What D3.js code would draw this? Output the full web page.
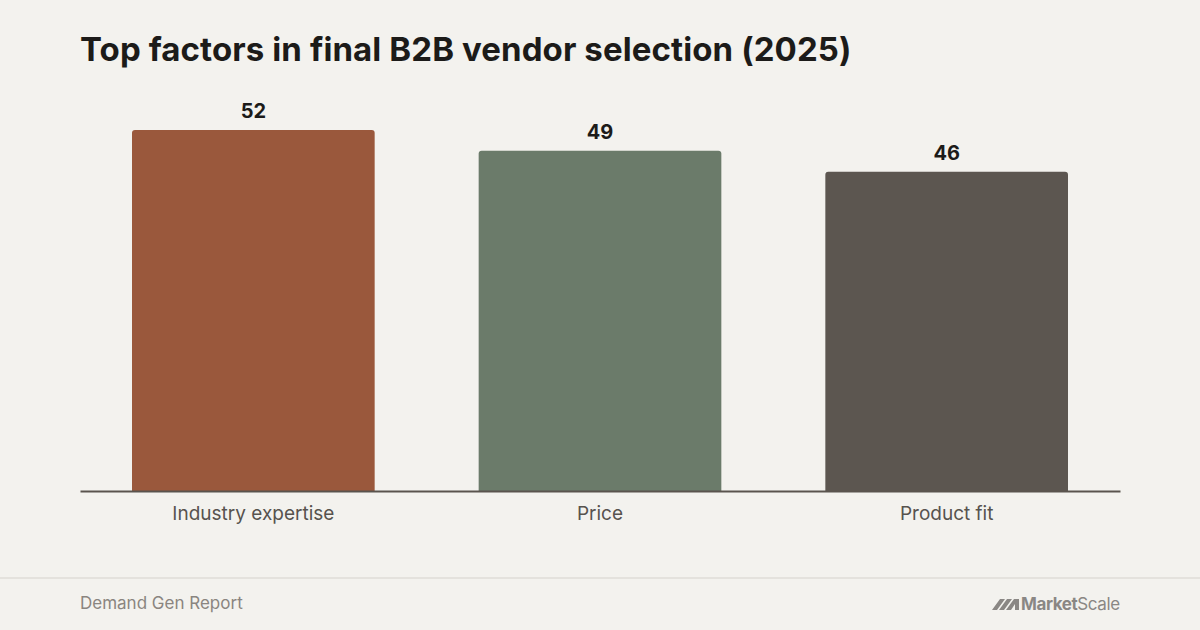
<!DOCTYPE html>
<html>
<head>
<meta charset="utf-8">
<script src="https://cdn.jsdelivr.net/npm/d3@7"></script>
<style>
  html, body { margin: 0; padding: 0; background: #f3f2ee; }
  svg { display: block; font-family: Inter, "Noto Sans", sans-serif; }
</style>
</head>
<body>
<svg width="1200" height="630"></svg>
<script>
  // data
  const categories = ["Industry expertise", "Price", "Product fit"];
  const values = [52, 49, 46];
  const barColors = ["#9a583c", "#6b7b6a", "#5c5650"];

  const svg = d3.select("svg");
  const W = 1200, H = 630;

  svg.append("rect").attr("width", W).attr("height", H).attr("fill", "#f3f2ee");

  // title
  svg.append("text")
    .attr("x", 80).attr("y", 61)
    .attr("font-size", 33).attr("font-weight", 700)
    .attr("letter-spacing", 0.1)
    .attr("fill", "#1c1b19")
    .text("Top factors in final B2B vendor selection (2025)");

  const x = d3.scaleBand()
    .domain(categories)
    .range([80, 1120])
    .paddingInner(0.3)
    .paddingOuter(0.15);

  const y = d3.scaleLinear()
    .domain([0, 52])
    .range([491, 130]);

  const rows = categories.map((c, i) => ({ cat: c, val: values[i], color: barColors[i] }));

  // bars with slightly rounded tops
  const r = 3;
  svg.append("g").selectAll("path")
    .data(rows)
    .join("path")
    .attr("fill", d => d.color)
    .attr("d", d => {
      const x0 = x(d.cat), x1 = x0 + x.bandwidth();
      const y0 = y(d.val), y1 = y(0);
      return `M${x0},${y1} L${x0},${y0 + r} Q${x0},${y0} ${x0 + r},${y0}
              L${x1 - r},${y0} Q${x1},${y0} ${x1},${y0 + r} L${x1},${y1} Z`;
    });

  // value labels
  svg.append("g").selectAll("text")
    .data(rows)
    .join("text")
    .attr("x", d => x(d.cat) + x.bandwidth() / 2)
    .attr("y", d => y(d.val) - 12)
    .attr("text-anchor", "middle")
    .attr("font-size", 20).attr("font-weight", 700)
    .attr("fill", "#1c1b19")
    .text(d => d.val);

  // baseline axis
  const axis = svg.append("g")
    .attr("transform", `translate(0,${y(0)})`)
    .call(d3.axisBottom(x).tickSize(0).tickPadding(16));
  axis.select(".domain").attr("stroke", "#5a544e").attr("stroke-width", 2);
  axis.selectAll(".tick text")
    .attr("font-size", 19)
    .attr("font-family", "Inter, 'Noto Sans', sans-serif")
    .attr("fill", "#57534e");

  // footer
  svg.append("line")
    .attr("x1", 0).attr("x2", W)
    .attr("y1", 578).attr("y2", 578)
    .attr("stroke", "#e4e2dd").attr("stroke-width", 2);

  svg.append("text")
    .attr("x", 80).attr("y", 609)
    .attr("font-size", 17)
    .attr("fill", "#8a8580")
    .text("Demand Gen Report");

  // MarketScale logo mark + wordmark
  const logo = svg.append("g").attr("transform", "translate(992,596)");
  logo.append("path")
    .attr("fill", "#8a8784")
    .attr("d", "M0,14 L8,3 L13,3 L5,14 Z M7,14 L15,3 L20,3 L12,14 Z M14,14 L22,3 L27,3 L27,14 L23,14 L23,8 L19,14 Z");
  logo.append("text")
    .attr("x", 29).attr("y", 14)
    .attr("font-size", 17)
    .attr("letter-spacing", -0.4)
    .attr("fill", "#8a8784")
    .call(t => {
      t.append("tspan").attr("font-weight", 700).text("Market");
      t.append("tspan").attr("font-weight", 400).text("Scale");
    });
</script>
</body>
</html>
